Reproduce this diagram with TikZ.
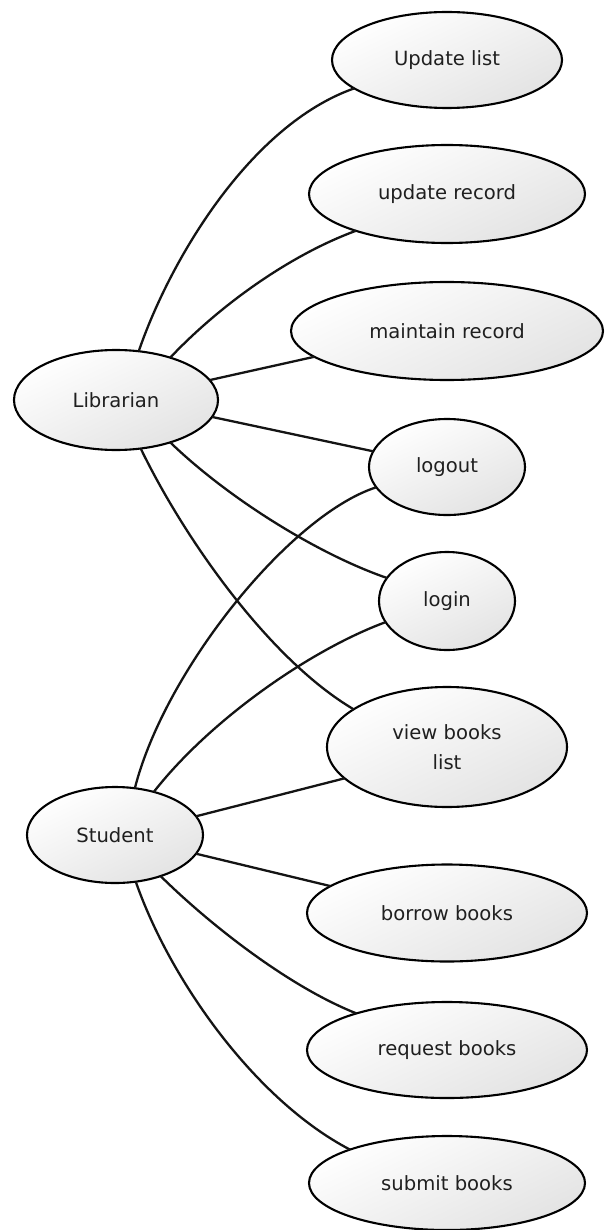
\documentclass[tikz,border=0pt]{standalone}
\usepackage{fontspec}
\setmainfont{DejaVu Sans}
\usetikzlibrary{shapes.geometric}
\tikzset{
  uc/.style 2 args={ellipse, draw=black, line width=1.05pt, inner sep=0pt, outer sep=0pt,
    top color=white, bottom color=black!11, shading angle=25,
    minimum width=#1, minimum height=#2, align=center, text=black!88,
    font=\fontsize{9.8}{15}\selectfont},
  link/.style={line width=1.15pt, draw=black!92}
}
\begin{document}
\begin{tikzpicture}[x=0.5pt,y=-0.5pt]
\useasboundingbox (0,0) rectangle (607,1230);
% actors
\node[uc={102pt}{50pt}] (lib) at (116,400) {Librarian};
\node[uc={88pt}{48pt}] (stu) at (115,835) {Student};
% use cases
\node[uc={115pt}{48pt}] (ul) at (447,60) {Update list};
\node[uc={138pt}{49pt}] (ur) at (447,194) {update record};
\node[uc={156pt}{49pt}] (mr) at (447,331) {maintain record};
\node[uc={78pt}{48pt}] (lo) at (447,467) {logout};
\node[uc={68pt}{49pt}] (li) at (447,601) {login};
\node[uc={120pt}{60pt}] (vb) at (447,747) {view books\\list};
\node[uc={140pt}{48.5pt}] (bb) at (447,913) {borrow books};
\node[uc={140pt}{48pt}] (rb) at (447,1050) {request books};
\node[uc={138pt}{47pt}] (sb) at (447,1183) {submit books};
% librarian links
\draw[link] (lib.65) .. controls (170,260) and (250,125) .. (ul.197.7);
\draw[link] (lib.38.5) .. controls (220,305) and (290,255) .. (ur.202.4);
\draw[link] (lib.12.9) -- (mr.191.4);
\draw[link] (lib.-10.5) -- (lo.168.7);
\draw[link] (lib.-38.5) .. controls (230,500) and (320,555) .. (li.159.7);
\draw[link] (lib.-63.4) .. controls (185,540) and (270,660) .. (vb.158.7);
% student links
\draw[link] (stu.67.4) .. controls (165,670) and (290,515) .. (lo.196.3);
\draw[link] (stu.48.4) .. controls (210,720) and (310,650) .. (li.199);
\draw[link] (stu.13.2) -- (vb.197.8);
\draw[link] (stu.-13.2) -- (bb.167.5);
\draw[link] (stu.-42.5) .. controls (205,920) and (285,985) .. (rb.158.2);
\draw[link] (stu.-66.3) .. controls (170,980) and (255,1100) .. (sb.161.6);
\end{tikzpicture}
\end{document}
